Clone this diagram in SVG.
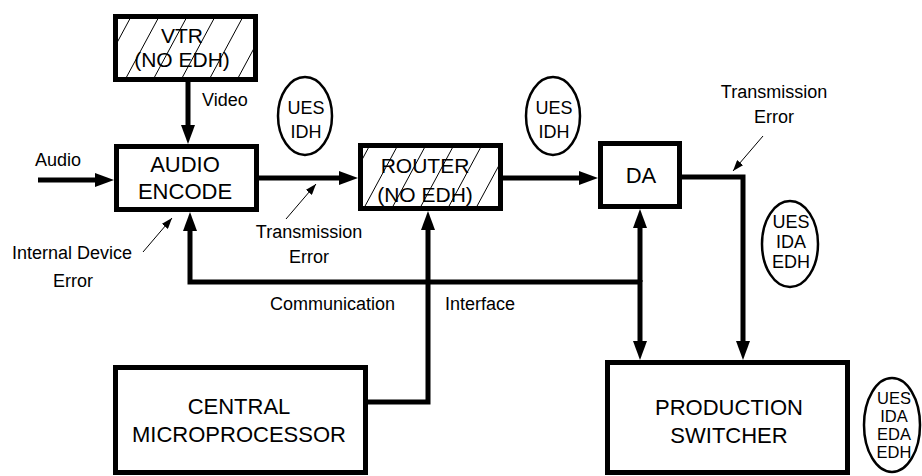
<svg xmlns="http://www.w3.org/2000/svg" width="922" height="476" viewBox="0 0 922 476">
<style>
text{font-family:"Liberation Sans",Arial,sans-serif;fill:#000}
.box{fill:#fff;stroke:#000;stroke-width:5}
.hatch{fill:url(#hatch);stroke:#000;stroke-width:5}
.bl{font-size:22px;text-anchor:middle}
.hl{font-size:21px;text-anchor:middle}
.lb{font-size:18px}
.c{text-anchor:middle}
.el{fill:#fff;stroke:#000;stroke-width:2.5}
.et{font-size:18px;text-anchor:middle}
.et4{font-size:16.5px;text-anchor:middle}
.wire{fill:none;stroke:#000;stroke-width:5}
.thin{fill:none;stroke:#000;stroke-width:1}
</style>
<defs>
<pattern id="hatch" patternUnits="userSpaceOnUse" width="28" height="52">
<rect width="28" height="52" fill="#fff"/>
<path d="M0 52L28 0M-2 4L2 -4M26 56L30 48" stroke="#000" stroke-width="1"/>
</pattern>
<marker id="ah" markerUnits="userSpaceOnUse" markerWidth="20" markerHeight="14" refX="9" refY="7" orient="auto">
<path d="M0 0L19 7L0 14Z" fill="#000"/>
</marker>
<marker id="as" markerUnits="userSpaceOnUse" markerWidth="12" markerHeight="8" refX="11" refY="4" orient="auto">
<path d="M0 0L11 4L0 8Z" fill="#000"/>
</marker>
</defs>

<g id="connectors">
<path class="wire" d="M188 82V134" marker-end="url(#ah)"/>
<path class="wire" d="M38 180H104" marker-end="url(#ah)"/>
<path class="wire" d="M259 178H348" marker-end="url(#ah)"/>
<path class="wire" d="M503 178H588" marker-end="url(#ah)"/>
<path class="wire" d="M682 177H743V350" marker-end="url(#ah)"/>
<path class="wire" d="M640 282H190V222" marker-end="url(#ah)"/>
<path class="wire" d="M640 282V219" marker-end="url(#ah)"/>
<path class="wire" d="M640 280V350" marker-end="url(#ah)"/>
<path class="wire" d="M368 402H428V221" marker-end="url(#ah)"/>
<path class="thin" d="M143 252L172 218" marker-end="url(#as)"/>
<path class="thin" d="M286 219L316 184" marker-end="url(#as)"/>
<path class="thin" d="M763 136L733 171" marker-end="url(#as)"/>
</g>

<g id="vtr">
<rect class="hatch" x="115.5" y="16.5" width="140" height="63"/>
<text class="hl" x="182" y="43">VTR</text>
<text class="hl" x="182" y="67">(NO EDH)</text>
</g>
<g id="audio-encode">
<rect class="box" x="116.5" y="146.5" width="140" height="63"/>
<text class="bl" x="185" y="172">AUDIO</text>
<text class="bl" x="185" y="199">ENCODE</text>
</g>
<g id="router">
<rect class="hatch" x="360.5" y="145.5" width="140" height="63"/>
<text class="hl" x="425" y="173">ROUTER</text>
<text class="hl" x="425" y="202">(NO EDH)</text>
</g>
<g id="da">
<rect class="box" x="600.5" y="143.5" width="79" height="63"/>
<text class="bl" x="641" y="183">DA</text>
</g>
<g id="central-microprocessor">
<rect class="box" x="115.5" y="367.5" width="250" height="105"/>
<text class="bl" x="239" y="414">CENTRAL</text>
<text class="bl" x="239" y="442">MICROPROCESSOR</text>
</g>
<g id="production-switcher">
<rect class="box" x="607.5" y="362.5" width="240" height="110"/>
<text class="bl" x="729" y="415">PRODUCTION</text>
<text class="bl" x="729" y="443">SWITCHER</text>
</g>

<g id="status1">
<ellipse class="el" cx="305" cy="116" rx="27" ry="39"/>
<text class="et" x="306" y="114">UES</text>
<text class="et" x="306" y="138">IDH</text>
</g>
<g id="status2">
<ellipse class="el" cx="553" cy="116" rx="27" ry="39"/>
<text class="et" x="554" y="114">UES</text>
<text class="et" x="554" y="138">IDH</text>
</g>
<g id="status3">
<ellipse class="el" cx="790" cy="244" rx="28" ry="43"/>
<text class="et" x="791" y="228">UES</text>
<text class="et" x="791" y="248">IDA</text>
<text class="et" x="791" y="268">EDH</text>
</g>
<g id="status4">
<ellipse class="el" cx="892" cy="425" rx="28" ry="47"/>
<text class="et4" x="894" y="404">UES</text>
<text class="et4" x="894" y="422">IDA</text>
<text class="et4" x="894" y="440">EDA</text>
<text class="et4" x="894" y="458">EDH</text>
</g>

<g id="labels">
<text class="lb" x="202" y="106">Video</text>
<text class="lb" x="35" y="166">Audio</text>
<text class="lb" x="12" y="259">Internal Device</text>
<text class="lb c" x="73" y="287">Error</text>
<text class="lb c" x="309" y="238">Transmission</text>
<text class="lb c" x="309" y="263">Error</text>
<text class="lb" x="270" y="310">Communication</text>
<text class="lb" x="445" y="310">Interface</text>
<text class="lb c" x="774" y="98">Transmission</text>
<text class="lb c" x="774" y="123">Error</text>
</g>
</svg>
